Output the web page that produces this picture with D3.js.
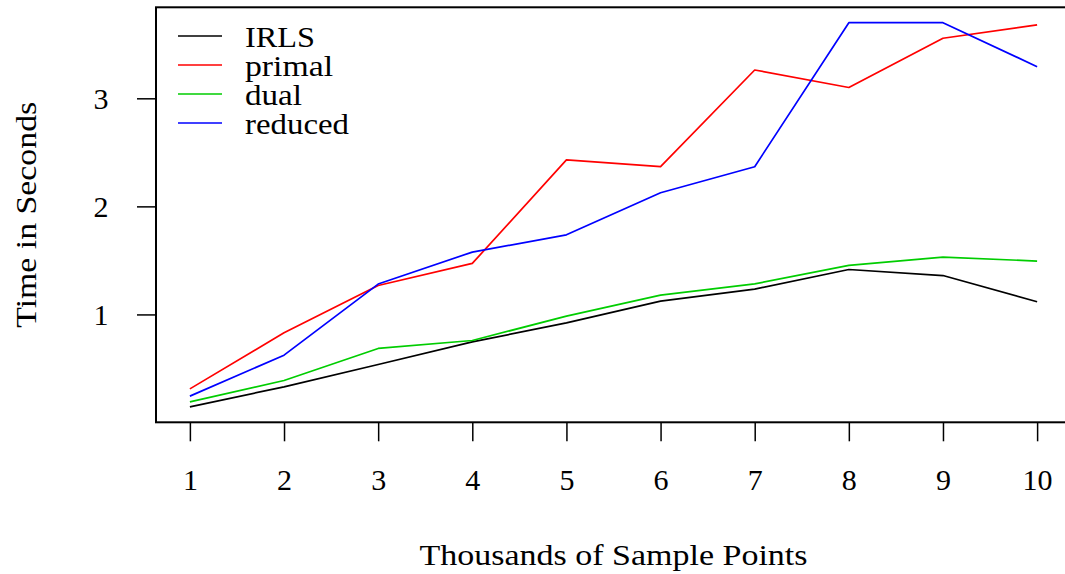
<!DOCTYPE html>
<html>
<head>
<meta charset="utf-8">
<script src="https://cdn.jsdelivr.net/npm/d3@7"></script>
<style>
  body { margin: 0; background: white; }
  svg { display: block; font-family: "Liberation Serif", "DejaVu Serif", serif; }
</style>
</head>
<body>
<div class="main"></div>
<script>
// thousands of sample points
var samples = [1, 2, 3, 4, 5, 6, 7, 8, 9, 10];

// seconds
var irls    = [0.144, 0.33, 0.537, 0.746, 0.922, 1.123, 1.234, 1.416, 1.36, 1.117];
var primal  = [0.311, 0.83, 1.268, 1.472, 2.43, 2.367, 3.262, 3.10, 3.556, 3.68];
var dual    = [0.191, 0.389, 0.685, 0.759, 0.984, 1.179, 1.283, 1.454, 1.531, 1.494];
var reduced = [0.244, 0.623, 1.281, 1.577, 1.737, 2.126, 2.367, 3.70, 3.70, 3.293];

var seriesNames = ["IRLS", "primal", "dual", "reduced"];
var seriesColors = ["#000000", "#ff0000", "#00cd00", "#0000ff"];
var yTicks = [1, 2, 3];

var width = 1065;
var height = 574;

// the original used wider (Computer Modern) glyphs, stretch to its widths
var legendWidths = [70, 88, 57, 104];

var svg = d3.select("div.main")
    .append("svg")
    .attr("width", width)
    .attr("height", height)

var series = [irls, primal, dual, reduced].map(function (v, i) {
    return { name: seriesNames[i], color: seriesColors[i], values: v, w: legendWidths[i] }
})

// R style axis ranges: data extent padded by 4%
var xExt = d3.extent(samples)
var xPad = (xExt[1] - xExt[0]) * 0.04
var allY = d3.merge([irls, primal, dual, reduced])
var yExt = d3.extent(allY)
var yPad = (yExt[1] - yExt[0]) * 0.04

var x = d3.scaleLinear().domain([xExt[0] - xPad, xExt[1] + xPad]).range([156, 1071])
var y = d3.scaleLinear().domain([yExt[0] - yPad, yExt[1] + yPad]).range([422.3, 7.3])

var line = d3.line()
    .x(function (d, i) { return x(samples[i]) })
    .y(function (d) { return y(d) })

// x axis
var gx = svg.append("g")
    .attr("transform", "translate(0," + y.range()[0] + ")")
    .call(d3.axisBottom(x).tickValues(samples).tickSize(19).tickFormat(d3.format("d")))
gx.select(".domain").remove()
gx.selectAll("line").attr("stroke-width", 1.5)
gx.selectAll("text")
    .attr("y", 68)
    .attr("dy", 0)
    .attr("fill", "black")
    .style("font-size", "30px")
    .style("font-family", "Liberation Serif")

// y axis
var gy = svg.append("g")
    .attr("transform", "translate(" + x.range()[0] + ",0)")
    .call(d3.axisLeft(y).tickValues(yTicks).tickSize(19).tickFormat(d3.format("d")))
gy.select(".domain").remove()
gy.selectAll("line").attr("stroke-width", 1.5)
gy.selectAll("text")
    .attr("x", -55)
    .attr("dy", "0.35em")
    .attr("text-anchor", "middle")
    .attr("fill", "black")
    .style("font-size", "30px")
    .style("font-family", "Liberation Serif")

// lines
svg.append("g").selectAll("path")
    .data(series)
    .enter()
    .append("path")
    .attr("fill", "none")
    .attr("stroke", function (d) { return d.color })
    .attr("stroke-width", 1.7)
    .attr("stroke-linejoin", "round")
    .attr("d", function (d) { return line(d.values) })

// plot box
svg.append("rect")
    .attr("x", x.range()[0])
    .attr("y", y.range()[1])
    .attr("width", x.range()[1] - x.range()[0])
    .attr("height", y.range()[0] - y.range()[1])
    .attr("fill", "none")
    .attr("stroke", "black")
    .attr("stroke-width", 2)

// legend
var leg = svg.append("g").selectAll("g")
    .data(series)
    .enter()
    .append("g")
    .attr("transform", function (d, i) { return "translate(178," + (36 + i * 29) + ")" })

leg.append("line")
    .attr("x1", 0).attr("x2", 44)
    .attr("stroke", function (d) { return d.color })
    .attr("stroke-width", 1.7)

leg.append("text")
    .attr("x", 67)
    .attr("y", 10.5)
    .attr("textLength", function (d) { return d.w })
    .attr("lengthAdjust", "spacingAndGlyphs")
    .style("font-size", "29px")
    .text(function (d) { return d.name })

// titles
svg.append("text")
    .attr("x", (x.range()[0] + x.range()[1]) / 2)
    .attr("y", 565)
    .attr("text-anchor", "middle")
    .attr("textLength", 388)
    .attr("lengthAdjust", "spacingAndGlyphs")
    .style("font-size", "30px")
    .text("Thousands of Sample Points")

svg.append("text")
    .attr("transform", "translate(36," + (y.range()[0] + y.range()[1]) / 2 + ") rotate(-90)")
    .attr("text-anchor", "middle")
    .attr("textLength", 226)
    .attr("lengthAdjust", "spacingAndGlyphs")
    .style("font-size", "30px")
    .text("Time in Seconds")
</script>
</body>
</html>
